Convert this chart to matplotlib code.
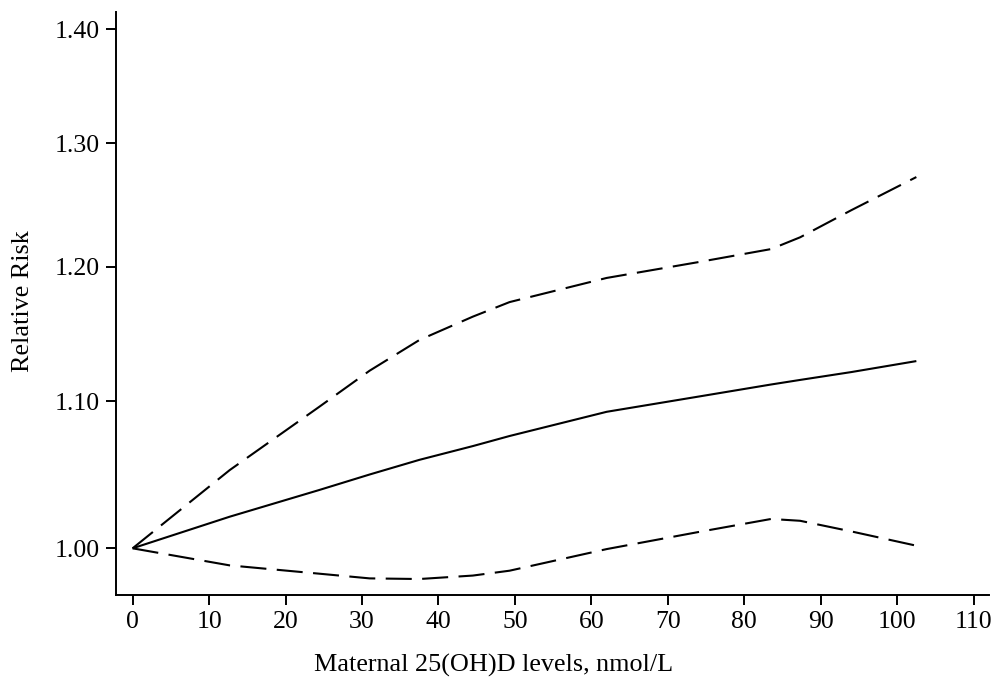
import matplotlib
matplotlib.use("Agg")
import matplotlib.pyplot as plt
from matplotlib.ticker import FixedLocator, FixedFormatter, NullLocator

# Data
x_levels = [0, 12.7, 24.4, 31, 37.5, 44.5, 49.3, 62, 74.2, 83.5, 87.3, 94, 102.5]
rr_est   = [1.000, 1.0207, 1.0385, 1.049, 1.059, 1.0685, 1.0755, 1.0925, 1.1035, 1.112, 1.1153, 1.121, 1.129]
rr_upper = [1.000, 1.052, 1.096, 1.122, 1.1445, 1.162, 1.173, 1.1915, 1.204, 1.214, 1.2233, 1.245, 1.272]
rr_lower = [1.000, 0.989, 0.9837, 0.9807, 0.9803, 0.9825, 0.9856, 0.9995, 1.0108, 1.0192, 1.018, 1.011, 1.0017]

xticks = [0, 10, 20, 30, 40, 50, 60, 70, 80, 90, 100, 110]
yticks = [1.00, 1.10, 1.20, 1.30, 1.40]
ytick_labels = ["1.00", "1.10", "1.20", "1.30", "1.40"]

plt.rcParams['font.family'] = ['Liberation Serif', 'DejaVu Serif']

W, H = 998, 684
fig = plt.figure(figsize=(W / 100, H / 100), dpi=100)
left, right, top, bottom = 116, 989, 12, 595
ax = fig.add_axes([left / W, 1 - bottom / H, (right - left) / W, (bottom - top) / H])

lw = 1.5
ax.plot(x_levels, rr_est, color='black', lw=lw, solid_capstyle='butt')
ax.plot(x_levels, rr_upper, color='black', lw=lw, dashes=(12.5, 5), dash_capstyle='butt')
ax.plot(x_levels, rr_lower, color='black', lw=lw, dashes=(12.5, 5), dash_capstyle='butt')

ax.set_yscale('log')
ax.set_xlim(-2.17, 112.0)
ax.set_ylim(0.9702, 1.4156)

ax.xaxis.set_major_locator(FixedLocator(xticks))
ax.set_xticklabels([str(t) for t in xticks])
ax.yaxis.set_major_locator(FixedLocator(yticks))
ax.yaxis.set_major_formatter(FixedFormatter(ytick_labels))
ax.yaxis.set_minor_locator(NullLocator())
ax.xaxis.set_minor_locator(NullLocator())

for s in ['top', 'right']:
    ax.spines[s].set_visible(False)
for s in ['left', 'bottom']:
    ax.spines[s].set_linewidth(1.4)

ax.tick_params(axis='both', which='major', direction='out', length=7.2, width=1.4,
               labelsize=18.5, colors='black')
ax.tick_params(axis='x', pad=4.5)
ax.tick_params(axis='y', pad=4.3)

fig.text(494 / W, 1 - 665 / H, "Maternal 25(OH)D levels, nmol/L", ha='center', va='center',
         fontsize=18.8)
fig.text(23 / W, 1 - 301 / H, "Relative Risk", ha='center', va='center', rotation=90,
         fontsize=18.8)

fig.savefig("out.png", dpi=100)
